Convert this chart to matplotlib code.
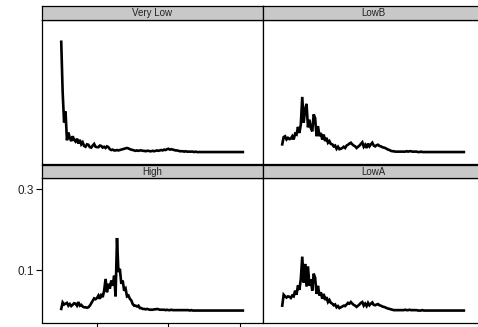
import numpy as np
import matplotlib
matplotlib.use("Agg")
import matplotlib.pyplot as plt

plt.rcParams['font.family'] = ['Liberation Sans', 'DejaVu Sans']

# x positions shared by every panel (tick values 100, 200, 300)
x = np.arange(50, 306, 2)

very_low = [
    0.273, 0.148, 0.074, 0.101, 0.030,
    0.049, 0.036, 0.028, 0.040, 0.031, 0.027, 0.034, 0.022, 0.031, 0.020,
    0.025, 0.016, 0.014, 0.020, 0.019, 0.013, 0.012, 0.017, 0.021, 0.014,
    0.013, 0.013, 0.017, 0.016, 0.012, 0.014, 0.011, 0.015, 0.013, 0.008,
    0.006, 0.007, 0.005, 0.005, 0.006, 0.005, 0.006, 0.007, 0.008, 0.009,
    0.010, 0.011, 0.010, 0.008, 0.007, 0.006, 0.005, 0.004, 0.005, 0.004,
    0.005, 0.005, 0.004, 0.004, 0.003, 0.004, 0.004, 0.003, 0.003, 0.004,
    0.003, 0.004, 0.005, 0.004, 0.005, 0.006, 0.005, 0.007, 0.006, 0.008,
    0.009, 0.007, 0.008, 0.007, 0.006, 0.005, 0.005, 0.004, 0.003, 0.003,
    0.003, 0.002, 0.003, 0.002, 0.002, 0.002, 0.002, 0.002, 0.001, 0.002,
    0.001, 0.001, 0.001, 0.001, 0.001, 0.001, 0.001, 0.001, 0.001, 0.001,
    0.001, 0.001, 0.001, 0.001, 0.001, 0.001, 0.001, 0.001, 0.001, 0.001,
    0.001, 0.001, 0.001, 0.001, 0.001, 0.001, 0.001, 0.001, 0.001, 0.001,
    0.001, 0.001, 0.001,
]

low_b = [
    0.020, 0.038, 0.040, 0.032, 0.036,
    0.033, 0.034, 0.040, 0.032, 0.046, 0.044, 0.063, 0.048, 0.069, 0.137,
    0.073, 0.106, 0.120, 0.062, 0.081, 0.060, 0.052, 0.094, 0.085, 0.040,
    0.065, 0.040, 0.048, 0.032, 0.044, 0.028, 0.036, 0.024, 0.028, 0.021,
    0.020, 0.015, 0.017, 0.009, 0.014, 0.008, 0.009, 0.011, 0.014, 0.011,
    0.017, 0.019, 0.022, 0.024, 0.020, 0.017, 0.015, 0.011, 0.014, 0.017,
    0.021, 0.025, 0.014, 0.019, 0.011, 0.022, 0.015, 0.020, 0.024, 0.017,
    0.015, 0.018, 0.019, 0.016, 0.015, 0.013, 0.012, 0.011, 0.009, 0.007,
    0.006, 0.004, 0.003, 0.003, 0.002, 0.002, 0.002, 0.002, 0.002, 0.002,
    0.002, 0.002, 0.003, 0.002, 0.003, 0.003, 0.002, 0.002, 0.002, 0.002,
    0.001, 0.001, 0.002, 0.001, 0.001, 0.001, 0.001, 0.001, 0.001, 0.001,
    0.001, 0.001, 0.001, 0.001, 0.001, 0.001, 0.001, 0.001, 0.001, 0.001,
    0.001, 0.001, 0.001, 0.001, 0.001, 0.001, 0.001, 0.001, 0.001, 0.001,
    0.001, 0.001, 0.001,
]

high = [
    0.005, 0.021, 0.016, 0.018, 0.020,
    0.013, 0.017, 0.012, 0.015, 0.019, 0.018, 0.013, 0.022, 0.013, 0.015,
    0.011, 0.009, 0.009, 0.008, 0.009, 0.013, 0.019, 0.025, 0.031, 0.029,
    0.032, 0.038, 0.030, 0.042, 0.034, 0.050, 0.079, 0.046, 0.067, 0.055,
    0.075, 0.062, 0.087, 0.036, 0.180, 0.096, 0.104, 0.067, 0.075, 0.050,
    0.055, 0.036, 0.038, 0.030, 0.026, 0.017, 0.013, 0.013, 0.011, 0.013,
    0.007, 0.007, 0.005, 0.005, 0.004, 0.005, 0.004, 0.003, 0.003, 0.003,
    0.004, 0.004, 0.005, 0.004, 0.003, 0.003, 0.003, 0.003, 0.002, 0.003,
    0.002, 0.002, 0.003, 0.002, 0.002, 0.002, 0.002, 0.002, 0.002, 0.002,
    0.002, 0.002, 0.002, 0.002, 0.002, 0.001, 0.002, 0.001, 0.001, 0.001,
    0.001, 0.001, 0.001, 0.001, 0.001, 0.001, 0.001, 0.001, 0.001, 0.001,
    0.001, 0.001, 0.001, 0.001, 0.001, 0.001, 0.001, 0.001, 0.001, 0.001,
    0.001, 0.001, 0.001, 0.001, 0.001, 0.001, 0.001, 0.001, 0.001, 0.001,
    0.001, 0.001, 0.001,
]

low_a = [
    0.013, 0.040, 0.036, 0.033, 0.036,
    0.035, 0.032, 0.038, 0.036, 0.050, 0.040, 0.063, 0.052, 0.079, 0.134,
    0.070, 0.116, 0.060, 0.110, 0.062, 0.078, 0.050, 0.092, 0.082, 0.042,
    0.062, 0.038, 0.046, 0.030, 0.042, 0.027, 0.034, 0.022, 0.027, 0.020,
    0.018, 0.014, 0.016, 0.009, 0.012, 0.007, 0.009, 0.011, 0.013, 0.012,
    0.016, 0.020, 0.018, 0.022, 0.018, 0.015, 0.013, 0.010, 0.013, 0.016,
    0.020, 0.022, 0.013, 0.018, 0.012, 0.020, 0.014, 0.018, 0.021, 0.015,
    0.014, 0.016, 0.017, 0.014, 0.013, 0.011, 0.010, 0.009, 0.007, 0.006,
    0.005, 0.004, 0.003, 0.002, 0.002, 0.002, 0.002, 0.002, 0.002, 0.002,
    0.002, 0.003, 0.002, 0.002, 0.003, 0.002, 0.002, 0.002, 0.002, 0.002,
    0.001, 0.001, 0.001, 0.002, 0.001, 0.001, 0.001, 0.001, 0.001, 0.001,
    0.001, 0.001, 0.001, 0.001, 0.001, 0.001, 0.001, 0.001, 0.001, 0.001,
    0.001, 0.001, 0.001, 0.001, 0.001, 0.001, 0.001, 0.001, 0.001, 0.001,
    0.001, 0.001, 0.001,
]

panel_names = ["Very Low", "LowB", "High", "LowA"]
panel_data = [very_low, low_b, high, low_a]

xticks = [100, 200, 300]
yticks = [0.1, 0.3]
ytick_labels = ["0.1", "0.3"]

W, H = 478, 327
fig = plt.figure(figsize=(W / 100, H / 100), dpi=100)

# panel geometry in pixels (the right column runs off the image edge)
col_left = [42, 263]
panel_w = 221
row_top = [19.5, 178]      # top edge of each panel
panel_h = 144.5
strip_h = 13.5

for k, (name, vals) in enumerate(zip(panel_names, panel_data)):
    row, col = divmod(k, 2)
    left = col_left[col] / W
    bottom = 1 - (row_top[row] + panel_h) / H
    ax = fig.add_axes([left, bottom, panel_w / W, panel_h / H])
    ax.plot(x, vals, color="black", lw=1.9, solid_joinstyle="miter")
    ax.set_xlim(23.1, 332.2)
    ax.set_ylim(-0.0285, 0.328)
    for s in ax.spines.values():
        s.set_linewidth(0.9)

    ax.set_xticks([])
    ax.set_yticks([])
    if row == 1 and col == 0:
        ax.set_xticks(xticks)
        ax.tick_params(axis="x", direction="out", length=5, width=0.8,
                       labelbottom=False)
        ax.set_yticks(yticks)
        ax.set_yticklabels(ytick_labels)
        ax.tick_params(axis="y", direction="out", length=4, width=0.8,
                       labelsize=8.5, pad=2, labelcolor="#222222")

    # strip on top of the panel
    sax = fig.add_axes([left, 1 - row_top[row] / H, panel_w / W, strip_h / H])
    sax.set_facecolor("#c8c8c8")
    sax.set_xticks([])
    sax.set_yticks([])
    for s in sax.spines.values():
        s.set_linewidth(0.9)
    sax.text(0.5, 0.45, name, ha="center", va="center", fontsize=7,
             color="#222222", transform=sax.transAxes)

fig.savefig("out.png", dpi=100)
